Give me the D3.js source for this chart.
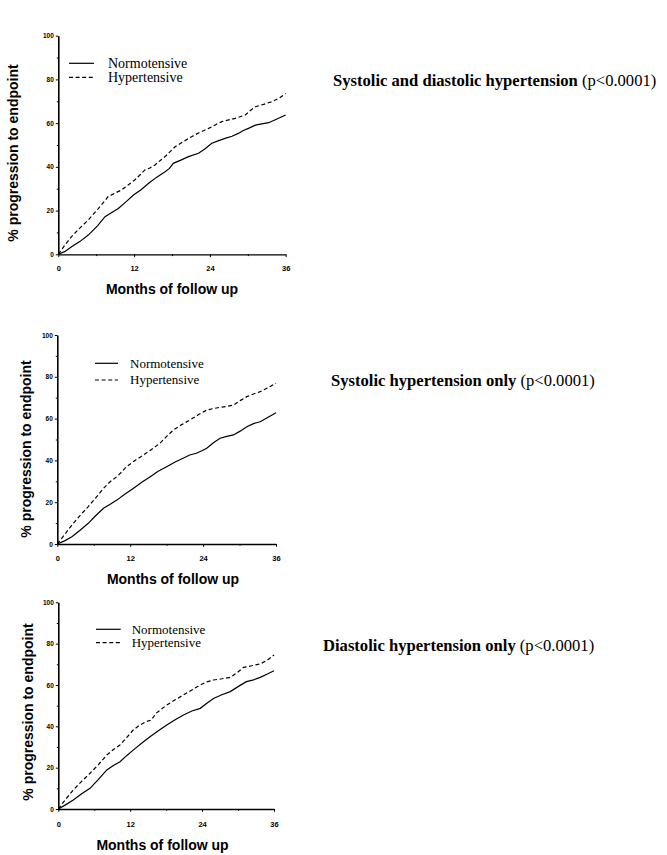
<!DOCTYPE html>
<html>
<head>
<meta charset="utf-8">
<script src="https://cdn.jsdelivr.net/npm/d3@7"></script>
<style>
  body { margin: 0; background: #fff; }
  svg { display: block; }
  .tick text { font-family: "Liberation Sans", Arial, sans-serif; font-weight: bold; }
</style>
</head>
<body>
<svg id="chart" width="667" height="855"></svg>
<script>
// series names / legend labels
const seriesNames = ["Normotensive", "Hypertensive"];
const yTicks = [0, 20, 40, 60, 80, 100];
const yMinorTicks = [10, 30, 50, 70, 90];
const xTicks = [0, 12, 24, 36];
const xMinorTicks = [6, 18, 30];

// panel titles
const titles = [
  ["Systolic and diastolic hypertension", " (p<0.0001)"],
  ["Systolic hypertension only", " (p<0.0001)"],
  ["Diastolic hypertension only", " (p<0.0001)"]
];

// [month, % progression]
const sysDiaNormo = [[0, 0], [1, 1.2], [2.1, 3.5], [3.4, 5.8], [4.75, 8.8], [6.2, 13], [7.4, 17.2], [8.4, 19], [9.5, 21], [10.8, 24.2], [11.9, 27.1], [13.1, 29.5], [14.3, 32.5], [15.6, 35.3], [16.9, 37.8], [17.6, 39.3], [18.2, 41.6], [19.4, 43.1], [20.6, 44.7], [22.2, 46.2], [23.2, 48.2], [24.3, 50.8], [25.4, 52], [26.4, 53], [27.5, 54], [28.5, 55.3], [29.3, 56.6], [30.1, 57.6], [31.2, 59.1], [32.2, 59.7], [33.3, 60.2], [34.7, 62], [36, 63.7]];
const sysDiaHyper = [[0, 0], [1, 4], [2.1, 8.1], [3.4, 12], [4.75, 15.7], [6.3, 20.8], [7.9, 26.4], [9, 28], [10, 29.4], [11, 31.6], [12.1, 34], [13, 36.5], [13.7, 38.6], [14.5, 39.5], [15.3, 40.9], [16.1, 42.8], [16.9, 44.7], [17.7, 47], [18.5, 49.2], [19.8, 51.6], [21.1, 53.8], [22.4, 55.8], [23.8, 57.6], [24.9, 59.3], [25.9, 60.7], [27, 61.5], [28, 62.2], [29.6, 63.7], [30.4, 65.8], [31.2, 67.5], [32.5, 68.6], [33.8, 69.8], [35, 71.5], [36, 73.6]];

const sysNormo = [[0, 0], [1.2, 1.5], [2.4, 3.5], [3.7, 6.5], [5.1, 9.9], [6.3, 13.5], [7.6, 17.1], [8.7, 19], [9.8, 21], [11.1, 23.8], [12.5, 26.6], [13.9, 29.5], [15.3, 32.2], [16.6, 34.8], [18, 37], [19.4, 39.2], [20.7, 41], [21.8, 42.6], [22.9, 43.4], [23.8, 44.6], [24.6, 45.8], [25.7, 48.4], [26.8, 50.6], [27.9, 51.5], [29, 52.2], [30.1, 54], [31.2, 56.1], [32.3, 57.6], [33.4, 58.5], [34.7, 60.6], [36, 62.8]];
const sysHyper = [[0, 0], [1.2, 4.5], [2.4, 9.1], [3.7, 13.5], [5.1, 17.9], [6.3, 22], [7.6, 26.6], [8.7, 29.8], [9.8, 32.2], [10.6, 34.5], [11.4, 37], [12.8, 40], [14.2, 42.6], [15.5, 45.2], [16.9, 48.2], [18, 51.5], [19.1, 54.5], [20.4, 57], [21.8, 59.3], [23.2, 61.8], [24.6, 64.1], [25.7, 64.8], [26.8, 65.4], [27.9, 65.8], [29, 66.5], [30.1, 68.6], [31.2, 70.5], [32.3, 71.8], [33.4, 72.9], [34.7, 74.8], [36, 76.9]];

const diaNormo = [[0, 0], [1.2, 2], [2.5, 4.4], [3.9, 7.4], [5.3, 10], [6.7, 14.3], [8.1, 18.9], [9.2, 21], [10.3, 22.9], [11.4, 25.8], [12.5, 28.5], [13.9, 31.8], [15.3, 35], [16.7, 37.8], [18.1, 40.6], [19.5, 43.2], [20.9, 45.5], [22.3, 47.4], [23.7, 48.7], [24.8, 51.2], [25.9, 53.5], [27.3, 55.3], [28.7, 56.8], [30, 59.2], [31.4, 61.6], [32.6, 62.5], [33.7, 63.7], [34.9, 65.3], [36, 66.9]];
const diaHyper = [[0, 0], [1.2, 4.6], [2.5, 9.2], [3.9, 13.4], [5.3, 17.3], [6.7, 21.5], [8.1, 26.1], [9.2, 28.8], [10.3, 31], [11.4, 34.5], [12.5, 38.2], [13.6, 40.6], [14.7, 42.3], [15.5, 43], [16.4, 46.5], [18.1, 50.3], [19.5, 52.8], [20.9, 55.2], [22.3, 57.6], [23.7, 60], [24.8, 61.5], [25.9, 62.4], [27.3, 63], [28.7, 63.7], [29.8, 65.8], [30.9, 68.5], [32.3, 69.3], [33.7, 70.2], [34.9, 72], [36, 74.5]];

const panelData = [
  [sysDiaNormo, sysDiaHyper],
  [sysNormo, sysHyper],
  [diaNormo, diaHyper]
];

// page layout for each panel (pixels)
const layout = [
  { x0: 58.3, x1: 285.7, yTop: 35.7, yBot: 254.3, tickY: 271.5, xTitleX: 172, xTitleY: 294,
    yTitleX: 17.5, yTitleY: 153, legX0: 69, legX1: 94, legY: [63.3, 77.3], legTextX: 108, legFont: 14,
    titleX: 333, titleY: 86 },
  { x0: 57.3, x1: 276, yTop: 335, yBot: 544, tickY: 560.5, xTitleX: 173, xTitleY: 584,
    yTitleX: 31, yTitleY: 449, legX0: 95, legX1: 118, legY: [363.3, 380], legTextX: 130, legFont: 13,
    titleX: 331, titleY: 386 },
  { x0: 58.3, x1: 274, yTop: 602.3, yBot: 809, tickY: 826.5, xTitleX: 162.5, xTitleY: 850,
    yTitleX: 33, yTitleY: 712, legX0: 96, legX1: 120.7, legY: [629.3, 642.7], legTextX: 131.7, legFont: 13,
    titleX: 323, titleY: 651 }
];

const dashes = [null, "4,2.6"];
const svg = d3.select("#chart");

layout.forEach(function (L, i) {
  var x = d3.scaleLinear().domain([0, 36]).range([L.x0, L.x1]);
  var y = d3.scaleLinear().domain([0, 100]).range([L.yBot, L.yTop]);
  var g = svg.append("g");

  // minor ticks first, so main axes sit on top
  g.append("g")
    .attr("transform", "translate(" + L.x0 + ",0)")
    .call(d3.axisLeft(y).tickValues(yMinorTicks).tickSize(1.5).tickFormat(""))
    .call(a => a.select(".domain").remove());
  g.append("g")
    .attr("transform", "translate(0," + L.yBot + ")")
    .call(d3.axisBottom(x).tickValues(xMinorTicks).tickSize(1.8).tickFormat(""))
    .call(a => a.select(".domain").remove());

  var yAxis = g.append("g")
    .attr("transform", "translate(" + L.x0 + ",0)")
    .call(d3.axisLeft(y).tickValues(yTicks).tickSize(2.5).tickSizeOuter(0).tickPadding(2));
  yAxis.selectAll("text").attr("font-size", 6.5);
  yAxis.select(".domain").attr("stroke-width", 1.6);

  var xAxis = g.append("g")
    .attr("transform", "translate(0," + L.yBot + ")")
    .call(d3.axisBottom(x).tickValues(xTicks).tickSize(2.8).tickSizeOuter(0));
  xAxis.selectAll("text").attr("font-size", 7.5).attr("dy", null)
    .attr("y", L.tickY - L.yBot);
  xAxis.select(".domain").attr("stroke-width", 1.3);

  // axis titles
  g.append("text")
    .attr("x", L.xTitleX).attr("y", L.xTitleY)
    .attr("text-anchor", "middle")
    .attr("font-family", "Liberation Sans, Arial, sans-serif")
    .attr("font-weight", "bold").attr("font-size", 14)
    .text("Months of follow up");
  g.append("text")
    .attr("transform", "translate(" + L.yTitleX + "," + L.yTitleY + ") rotate(-90)")
    .attr("text-anchor", "middle")
    .attr("font-family", "Liberation Sans, Arial, sans-serif")
    .attr("font-weight", "bold").attr("font-size", 14)
    .text("% progression to endpoint");

  // curves
  var line = d3.line().x(d => x(d[0])).y(d => y(d[1]));
  panelData[i].forEach(function (series, k) {
    g.append("path")
      .datum(series)
      .attr("fill", "none")
      .attr("stroke", "#000")
      .attr("stroke-width", 1.2)
      .attr("stroke-dasharray", dashes[k])
      .attr("d", line);
  });

  // legend
  seriesNames.forEach(function (name, k) {
    g.append("line")
      .attr("x1", L.legX0).attr("x2", L.legX1)
      .attr("y1", L.legY[k]).attr("y2", L.legY[k])
      .attr("stroke", "#000").attr("stroke-width", 1.2)
      .attr("stroke-dasharray", dashes[k]);
    g.append("text")
      .attr("x", L.legTextX).attr("y", L.legY[k] + L.legFont * 0.33)
      .attr("font-family", "Liberation Serif, Times New Roman, serif")
      .attr("font-size", L.legFont)
      .text(name);
  });

  // panel title on the right
  var t = svg.append("text")
    .attr("x", L.titleX).attr("y", L.titleY)
    .attr("font-family", "Liberation Serif, Times New Roman, serif")
    .attr("font-size", 16.6);
  t.append("tspan").attr("font-weight", "bold").text(titles[i][0]);
  t.append("tspan").text(titles[i][1]);
});
</script>
</body>
</html>
